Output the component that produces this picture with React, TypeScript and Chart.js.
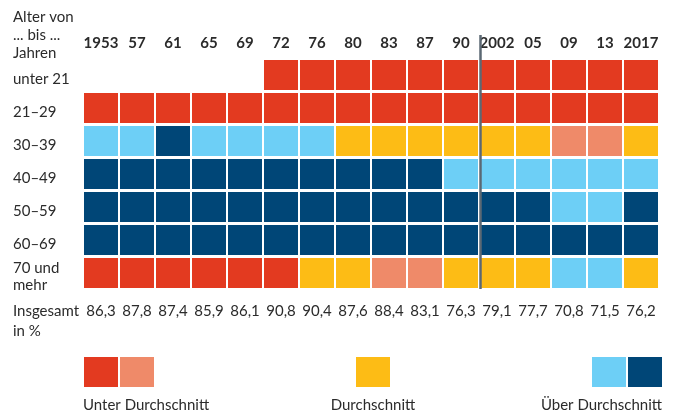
import React, { useEffect, useRef } from 'react';
import { Chart, registerables } from 'chart.js';

Chart.register(...registerables);

const years = ['1953', '57', '61', '65', '69', '72', '76', '80', '83', '87', '90', '2002', '05', '09', '13', '2017'];
const ageGroups = [['unter 21'], ['21–29'], ['30–39'], ['40–49'], ['50–59'], ['60–69'], ['70 und', 'mehr']];
const headerLines = ['Alter von', '... bis ...', 'Jahren'];
const totals = [86.3, 87.8, 87.4, 85.9, 86.1, 90.8, 90.4, 87.6, 88.4, 83.1, 76.3, 79.1, 77.7, 70.8, 71.5, 76.2];

// U = deutlich unter, u = unter, D = Durchschnitt, o = über, O = deutlich über
const rowUnter21 = ['', '', '', '', '', 'U', 'U', 'U', 'U', 'U', 'U', 'U', 'U', 'U', 'U', 'U'];
const row21to29 = ['U', 'U', 'U', 'U', 'U', 'U', 'U', 'U', 'U', 'U', 'U', 'U', 'U', 'U', 'U', 'U'];
const row30to39 = ['o', 'o', 'O', 'o', 'o', 'o', 'o', 'D', 'D', 'D', 'D', 'D', 'D', 'u', 'u', 'D'];
const row40to49 = ['O', 'O', 'O', 'O', 'O', 'O', 'O', 'O', 'O', 'O', 'o', 'o', 'o', 'o', 'o', 'o'];
const row50to59 = ['O', 'O', 'O', 'O', 'O', 'O', 'O', 'O', 'O', 'O', 'O', 'O', 'O', 'o', 'o', 'O'];
const row60to69 = ['O', 'O', 'O', 'O', 'O', 'O', 'O', 'O', 'O', 'O', 'O', 'O', 'O', 'O', 'O', 'O'];
const row70plus = ['U', 'U', 'U', 'U', 'U', 'U', 'D', 'D', 'u', 'u', 'D', 'D', 'D', 'o', 'o', 'D'];
const rows = [rowUnter21, row21to29, row30to39, row40to49, row50to59, row60to69, row70plus];

const legendGroups = [
  { label: 'Unter Durchschnitt', codes: ['U', 'u'] },
  { label: 'Durchschnitt', codes: ['D'] },
  { label: 'Über Durchschnitt', codes: ['o', 'O'] },
];

const palette: Record<string, string> = {
  U: '#e33a20',
  u: '#ef8a69',
  D: '#fdbc15',
  o: '#6dcff6',
  O: '#004677',
};

const TEXT = '#2b2b2b';
const FONT = 'Lato, "Open Sans", sans-serif';

const overlayPlugin = {
  id: 'overlay',
  afterDraw(chart: any) {
    const ctx = chart.ctx as CanvasRenderingContext2D;
    const x = chart.scales.x;
    const y = chart.scales.y;
    const ca = chart.chartArea;
    ctx.save();

    // header
    ctx.fillStyle = TEXT;
    ctx.font = `15px ${FONT}`;
    ctx.textAlign = 'left';
    ctx.textBaseline = 'middle';
    headerLines.forEach((t, i) => ctx.fillText(t, 13, 17 + i * 18));

    // years
    ctx.font = `bold 15px ${FONT}`;
    ctx.textAlign = 'center';
    years.forEach((t, i) => ctx.fillText(t, x.getPixelForValue(i) - 1, 43));

    // row labels
    ctx.font = `15px ${FONT}`;
    ctx.textAlign = 'left';
    ageGroups.forEach((lines, r) => {
      const val = ageGroups.length - r - 0.5;
      const cy = y.getPixelForValue(val) - 1.5 + 4;
      const start = cy - ((lines.length - 1) * 17) / 2;
      lines.forEach((t, k) => ctx.fillText(t, 13, start + k * 17));
    });

    // totals
    ctx.fillText('Insgesamt', 13, 311);
    ctx.fillText('in %', 13, 331);
    ctx.textAlign = 'center';
    totals.forEach((v, i) => {
      ctx.fillText(v.toFixed(1).replace('.', ','), x.getPixelForValue(i) - 1, 311);
    });

    // separator line between 1990 and 2002
    const lx = (x.getPixelForValue(10) + x.getPixelForValue(11)) / 2 + 0.5;
    ctx.strokeStyle = '#5b6873';
    ctx.lineWidth = 2.5;
    ctx.beginPath();
    ctx.moveTo(lx, 35);
    ctx.lineTo(lx, ca.bottom - 2);
    ctx.stroke();

    // legend
    const sw = 34;
    const sh = 30;
    const sy = 357;
    const ly = 405;
    // group 1: left aligned
    ctx.fillStyle = palette.U;
    ctx.fillRect(84, sy, sw, sh);
    ctx.fillStyle = palette.u;
    ctx.fillRect(120, sy, sw, sh);
    // group 2: centered
    ctx.fillStyle = palette.D;
    ctx.fillRect(356, sy, sw, sh);
    // group 3: right aligned
    ctx.fillStyle = palette.o;
    ctx.fillRect(592, sy, sw, sh);
    ctx.fillStyle = palette.O;
    ctx.fillRect(628, sy, sw, sh);

    ctx.fillStyle = TEXT;
    ctx.font = `15px ${FONT}`;
    ctx.textAlign = 'left';
    ctx.fillText(legendGroups[0].label, 83, ly);
    ctx.textAlign = 'center';
    ctx.fillText(legendGroups[1].label, 373, ly);
    ctx.textAlign = 'right';
    ctx.fillText(legendGroups[2].label, 662, ly);

    ctx.restore();
  },
};

export default function App() {
  const ref = useRef<HTMLCanvasElement | null>(null);

  useEffect(() => {
    document.body.style.margin = '0';
    const canvas = ref.current;
    if (!canvas) return;

    const bottomUp = rows.slice().reverse();
    const datasets = bottomUp.map((row, r) => ({
      label: ageGroups[rows.length - 1 - r].join(' '),
      data: row.map((c) => (c ? 1 : null)),
      backgroundColor: row.map((c) => (c ? palette[c] : 'rgba(0,0,0,0)')),
      borderColor: '#ffffff',
      borderWidth: { top: 0, bottom: 3, left: 0, right: 2 },
      borderSkipped: false,
      inflateAmount: 0,
      barPercentage: 1,
      categoryPercentage: 1,
    }));

    const chart = new Chart(canvas, {
      type: 'bar',
      data: { labels: years, datasets: datasets as any },
      options: {
        animation: false,
        responsive: false,
        devicePixelRatio: 1,
        layout: { padding: { left: 84, right: 18, top: 60, bottom: 123 } },
        plugins: { legend: { display: false }, tooltip: { enabled: false } },
        scales: {
          x: { stacked: true, display: false, offset: true },
          y: { stacked: true, display: false, min: 0, max: 7 },
        },
      },
      plugins: [overlayPlugin],
    });

    return () => chart.destroy();
  }, []);

  return (
    <div style={{ width: 678, height: 414, background: '#fff' }}>
      <canvas ref={ref} width={678} height={414} style={{ display: 'block' }} />
    </div>
  );
}
